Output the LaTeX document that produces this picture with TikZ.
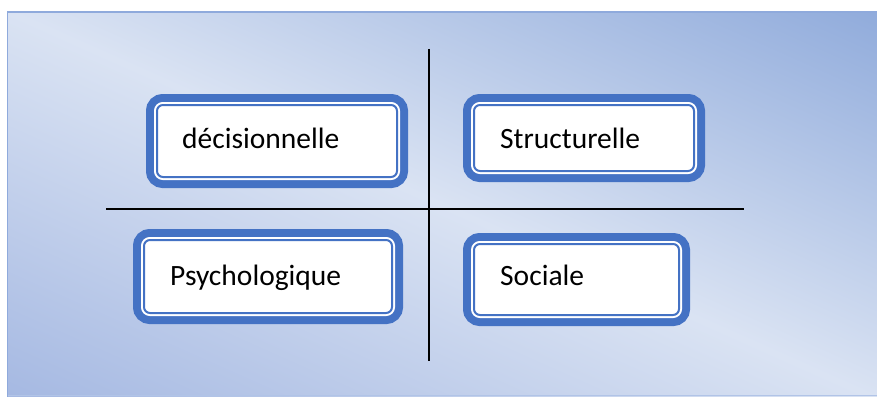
\documentclass[tikz,border=0pt]{standalone}
\usepackage{fontspec}
\setmainfont{Carlito}
\usetikzlibrary{calc}

\definecolor{bglight}{HTML}{DAE3F3}
\definecolor{bgdarkTR}{HTML}{8CA8DA}
\definecolor{bgdarkBL}{HTML}{A2B6E1}
\definecolor{frameblue}{HTML}{8FAADC}
\definecolor{ringblue}{HTML}{4472C4}

% reflected gradient: darker towards two opposite corners, light along the other diagonal
\pgfdeclarehorizontalshading{bgreflect}{100bp}{%
  color(0bp)=(bgdarkBL); color(15bp)=(bgdarkBL); color(50bp)=(bglight);
  color(85bp)=(bgdarkTR); color(100bp)=(bgdarkTR)}

\tikzset{
  ringbox/.style={
    rounded corners=6pt, fill=white, draw=ringblue, line width=2pt,
    inner sep=0pt,
    preaction={draw=ringblue, line width=22pt},
    preaction={draw=white, line width=6pt}
  },
  lbl/.style={font=\fontsize{29.5}{31}\selectfont, text=black, inner sep=0pt, anchor=base west},
  axisline/.style={draw=black, line width=2.2pt}
}

\begin{document}
\begin{tikzpicture}[x=1pt, y=-1pt]
  \useasboundingbox (0,0) rectangle (877,396);

  % background panel
  \path[shading=bgreflect, shading angle=66] (7,12) rectangle (884,400);
  \draw[frameblue, line width=1.5pt] (7.5,400) -- (7.5,12) -- (884,12);
  \draw[frameblue!70, line width=1pt] (7.5,395.5) -- (884,395.5);

  % the four framed boxes
  \node[ringbox, minimum width=240pt, minimum height=72pt] (dec) at (277,141) {};
  \node[ringbox, minimum width=220pt, minimum height=66pt] (str) at (584,138) {};
  \node[ringbox, minimum width=248pt, minimum height=73pt] (psy) at (268,276.5) {};
  \node[ringbox, minimum width=205pt, minimum height=71pt] (soc) at (576.5,279.5) {};

  % labels
  \node[lbl] (tdec) at (182,148) {décisionnelle};
  \node[lbl] (tstr) at (500,148) {Structurelle};
  \node[lbl] (tpsy) at (170,285) {Psychologique};
  \node[lbl] (tsoc) at (500,285) {Sociale};

  % cross separating the quadrants
  \coordinate (vtop) at (429,49);
  \coordinate (vbot) at (429,361);
  \coordinate (hleft) at (106,209);
  \coordinate (hright) at (744,209);
  \draw[axisline] (vtop) -- (vbot);
  \draw[axisline] (hleft) -- (hright);
\end{tikzpicture}
\end{document}
